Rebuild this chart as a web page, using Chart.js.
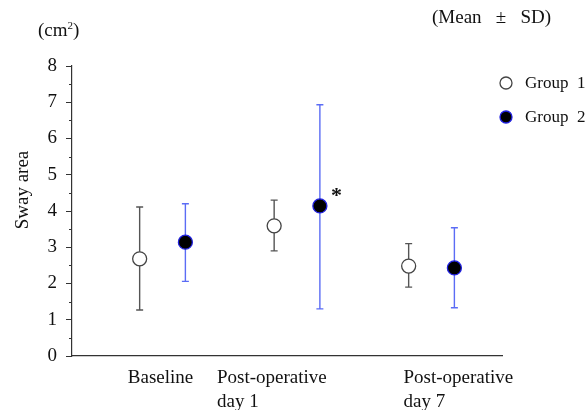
<!DOCTYPE html>
<html>
<head>
<meta charset="utf-8">
<script src="https://cdn.jsdelivr.net/npm/chart.js@4.4.1/dist/chart.umd.min.js"></script>
<style>
  html, body { margin: 0; padding: 0; background: #fff; }
  #wrap { width: 587px; height: 410px; position: relative; }
</style>
</head>
<body>
<div id="wrap"><canvas id="c"></canvas></div>
<script>
(function () {
  const CATEGORIES = [["Baseline"], ["Post-operative", "day 1"], ["Post-operative", "day 7"]];
  const GROUPS = ["Group 1", "Group 2"];
  const G1_MEAN = [2.68, 3.59, 2.48];
  const G1_UPPER = [4.11, 4.30, 3.10];
  const G1_LOWER = [1.27, 2.90, 1.90];
  const G2_MEAN = [3.14, 4.14, 2.43];
  const G2_UPPER = [4.20, 6.93, 3.54];
  const G2_LOWER = [2.06, 1.30, 1.33];
  const Y_TICKS = [0, 1, 2, 3, 4, 5, 6, 7, 8];
  const SIGNIFICANT = [false, true, false]; // group 2 marked with *

  const SERIF = "'Liberation Serif', 'DejaVu Serif', serif";
  const G1_BAR = "#555555";
  const G2_BAR = "#5b6cf5";
  const SHIFT = 0.17;

  function pts(means, shift) {
    return means.map((v, i) => ({ x: i + shift, y: v }));
  }

  const errorBars = {
    id: "errorBars",
    beforeDatasetsDraw(chart) {
      const { ctx, scales: { x, y } } = chart;
      const sets = [
        { up: G1_UPPER, lo: G1_LOWER, shift: -SHIFT, color: G1_BAR },
        { up: G2_UPPER, lo: G2_LOWER, shift: SHIFT, color: G2_BAR },
      ];
      ctx.save();
      ctx.lineWidth = 1.4;
      sets.forEach((s) => {
        ctx.strokeStyle = s.color;
        s.up.forEach((u, i) => {
          const px = x.getPixelForValue(i + s.shift);
          const pu = y.getPixelForValue(u);
          const pl = y.getPixelForValue(s.lo[i]);
          ctx.beginPath();
          ctx.moveTo(px, pu); ctx.lineTo(px, pl);
          ctx.moveTo(px - 3.5, pu); ctx.lineTo(px + 3.5, pu);
          ctx.moveTo(px - 3.5, pl); ctx.lineTo(px + 3.5, pl);
          ctx.stroke();
        });
      });
      ctx.restore();
    },
    afterDraw(chart) {
      const { ctx, scales: { x, y } } = chart;
      ctx.save();
      // minor ticks
      ctx.strokeStyle = "#333";
      ctx.lineWidth = 1;
      for (let i = 0; i < Y_TICKS.length - 1; i++) {
        const py = Math.round(y.getPixelForValue(Y_TICKS[i] + 0.5)) + 0.5;
        ctx.beginPath();
        ctx.moveTo(x.left - 3, py); ctx.lineTo(x.left, py);
        ctx.stroke();
      }
      // y title
      ctx.fillStyle = "#111";
      ctx.save();
      ctx.translate(23, 190);
      ctx.rotate(-Math.PI / 2);
      ctx.font = "19px " + SERIF;
      ctx.textAlign = "center";
      ctx.textBaseline = "middle";
      ctx.fillText("Sway area", 0, 0);
      ctx.restore();
      // category labels
      ctx.font = "19px " + SERIF;
      ctx.textBaseline = "alphabetic";
      const nudge = [[-2, "center"], [-80, "left"], [-28, "left"]];
      CATEGORIES.forEach((lines, i) => {
        const px = x.getPixelForValue(i) + nudge[i][0];
        ctx.textAlign = nudge[i][1];
        lines.forEach((t, j) => ctx.fillText(t, px, y.bottom + 27 + j * 24));
      });
      // significance mark
      ctx.font = "bold 22px " + SERIF;
      ctx.textAlign = "left";
      SIGNIFICANT.forEach((s, i) => {
        if (!s) return;
        ctx.fillText("*", x.getPixelForValue(i + SHIFT) + 11, y.getPixelForValue(G2_MEAN[i]) - 4);
      });
      // unit and note
      ctx.font = "19px " + SERIF;
      ctx.fillText("(cm", 38, 36);
      const w = ctx.measureText("(cm").width;
      ctx.font = "11px " + SERIF;
      ctx.fillText("2", 38 + w, 29);
      const w2 = ctx.measureText("2").width;
      ctx.font = "19px " + SERIF;
      ctx.fillText(")", 38 + w + w2, 36);
      ctx.fillText("(Mean   \u00b1   SD)", 432, 23);
      // legend
      const items = [
        { fill: "#fff", stroke: "#444" },
        { fill: "#000", stroke: "#2020e0" },
      ];
      GROUPS.forEach((g, i) => {
        const cy = 83 + i * 34;
        ctx.beginPath();
        ctx.arc(506, cy, 6, 0, Math.PI * 2);
        ctx.fillStyle = items[i].fill;
        ctx.fill();
        ctx.lineWidth = 1.3;
        ctx.strokeStyle = items[i].stroke;
        ctx.stroke();
        ctx.fillStyle = "#111";
        ctx.font = "17px " + SERIF;
        ctx.textBaseline = "middle";
        ctx.fillText(g.replace(" ", "  "), 525, cy + 1);
      });
      ctx.restore();
    },
  };

  new Chart(document.getElementById("c"), {
    type: "scatter",
    data: {
      datasets: [
        {
          label: GROUPS[0],
          data: pts(G1_MEAN, -SHIFT),
          pointRadius: 7,
          pointBackgroundColor: "#fff",
          pointBorderColor: "#444",
          pointBorderWidth: 1.3,
        },
        {
          label: GROUPS[1],
          data: pts(G2_MEAN, SHIFT),
          pointRadius: 7,
          pointBackgroundColor: "#000",
          pointBorderColor: "#2020e0",
          pointBorderWidth: 1.3,
        },
      ],
    },
    options: {
      responsive: true,
      maintainAspectRatio: false,
      animation: false,
      layout: { padding: { top: 66, right: 85, left: 0, bottom: 0 } },
      plugins: { legend: { display: false }, tooltip: { enabled: false } },
      scales: {
        x: {
          type: "linear",
          min: -0.673,
          max: 2.524,
          ticks: { display: false },
          grid: { drawOnChartArea: false, drawTicks: false },
          border: { color: "#333", width: 1.2 },
          afterFit(s) { s.height = 54; },
        },
        y: {
          min: 0,
          max: 8,
          afterBuildTicks(s) { s.ticks = Y_TICKS.map((v) => ({ value: v })); },
          ticks: {
            color: "#111",
            font: { family: SERIF, size: 19 },
            padding: 9,
          },
          grid: { drawOnChartArea: false, tickLength: 6, color: "#333" },
          border: { color: "#333", width: 1.2 },
          afterFit(s) { s.width = 72; },
        },
      },
    },
    plugins: [errorBars],
  });
})();
</script>
</body>
</html>
